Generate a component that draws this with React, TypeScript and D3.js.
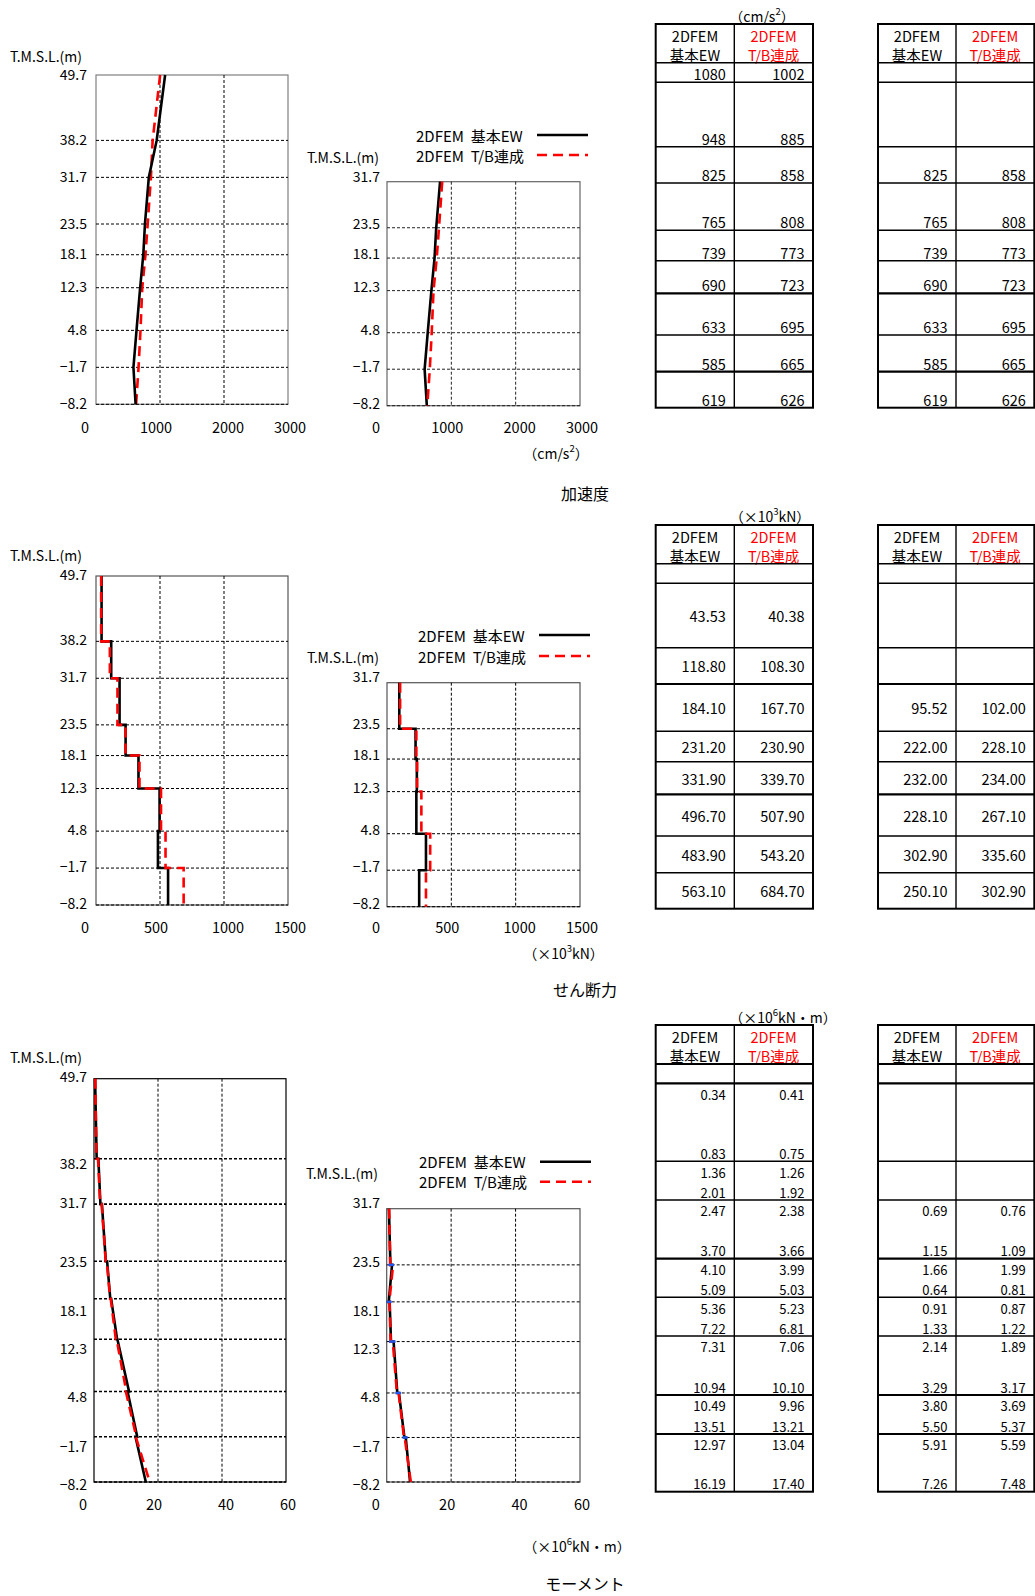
import React from 'react';
import * as d3 from 'd3';

// ---------- data ----------
const levelsFull = [49.7, 38.2, 31.7, 23.5, 18.1, 12.3, 4.8, -1.7, -8.2];
const levelsSub = [31.7, 23.5, 18.1, 12.3, 4.8, -1.7, -8.2];

const accelEW = [1080, 948, 825, 765, 739, 690, 633, 585, 619];
const accelTB = [1002, 885, 858, 808, 773, 723, 695, 665, 626];
const accelSubEW = [825, 765, 739, 690, 633, 585, 619];
const accelSubTB = [858, 808, 773, 723, 695, 665, 626];

const shearEW = [43.53, 118.8, 184.1, 231.2, 331.9, 496.7, 483.9, 563.1];
const shearTB = [40.38, 108.3, 167.7, 230.9, 339.7, 507.9, 543.2, 684.7];
const shearSubEW = [95.52, 222.0, 232.0, 228.1, 302.9, 250.1];
const shearSubTB = [102.0, 228.1, 234.0, 267.1, 335.6, 302.9];

const momentEWTop = [0.34, 1.36, 2.47, 4.10, 5.36, 7.31, 10.49, 12.97];
const momentEWBot = [0.83, 2.01, 3.70, 5.09, 7.22, 10.94, 13.51, 16.19];
const momentTBTop = [0.41, 1.26, 2.38, 3.99, 5.23, 7.06, 9.96, 13.04];
const momentTBBot = [0.75, 1.92, 3.66, 5.03, 6.81, 10.10, 13.21, 17.40];
const momentSubEWTop = [0.69, 1.66, 0.91, 2.14, 3.80, 5.91];
const momentSubEWBot = [1.15, 0.64, 1.33, 3.29, 5.50, 7.26];
const momentSubTBTop = [0.76, 1.99, 0.87, 1.89, 3.69, 5.59];
const momentSubTBBot = [1.09, 0.81, 1.22, 3.17, 5.37, 7.48];

const accelTicks = [0, 1000, 2000, 3000];
const shearTicks = [0, 500, 1000, 1500];
const momentTicks = [0, 20, 40, 60];

const seriesNames = ['2DFEM\u00a0\u00a0基本EW', '2DFEM\u00a0\u00a0T/B連成'];
const headerEW = ['2DFEM', '基本EW'];
const headerTB = ['2DFEM', 'T/B連成'];
const yAxisTitle = 'T.M.S.L.(m)';
const sectionTitles = ['加速度', 'せん断力', 'モーメント'];

// ---------- style ----------
const FONT = "'Noto Sans CJK JP', 'Noto Sans', sans-serif";
const RED = '#FF0000';
const xLabelNudge = [-11, -4, 4, 2];

type Pt = [number, number];
type Series = { points: Pt[]; color: string; width: number; dash?: string };

const ptsOf = (vals: number[], lv: number[]): Pt[] => vals.map((v, i) => [v, lv[i]] as Pt);
const stepPts = (vals: number[], lv: number[]): Pt[] =>
  vals.flatMap((v, i) => [[v, lv[i]] as Pt, [v, lv[i + 1]] as Pt]);
const segPts = (top: number[], bot: number[], lv: number[]): Pt[] =>
  top.flatMap((t, i) => [[t, lv[i]] as Pt, [bot[i], lv[i + 1]] as Pt]);

const ewStyle = { color: '#000', width: 2.6 };
const tbStyle = { color: RED, width: 2.6, dash: '10,6' };

function Chart(props: {
  x0: number; x1: number; y0: number; y1: number; xMax: number;
  levels: number[]; ticks: number[]; labelY: (v: number, i: number) => number;
  labelEndX: number; tickY: number; series: Series[]; gridW: number; gridColor: string;
  border: string; jogs?: { a: number; b: number; lv: number }[];
}) {
  const { x0, x1, y0, y1, xMax, levels, ticks, labelY, labelEndX, tickY, series, gridW, gridColor, border, jogs } = props;
  const xs = d3.scaleLinear().domain([0, xMax]).range([x0, x1]);
  const ys = d3.scaleLinear().domain([levels[levels.length - 1], levels[0]]).range([y1, y0]);
  const line = d3.line<Pt>().x(d => xs(d[0])).y(d => ys(d[1]));
  return (
    <g>
      <rect x={x0} y={y0} width={x1 - x0} height={y1 - y0} fill="#fff" stroke={border} strokeWidth={1.2} />
      {ticks.slice(1, -1).map(t => (
        <line key={'v' + t} x1={xs(t)} x2={xs(t)} y1={y0} y2={y1} stroke={gridColor} strokeWidth={1} strokeDasharray="3,2" />
      ))}
      {levels.slice(1).map(l => (
        <line key={'h' + l} x1={x0} x2={x1} y1={ys(l)} y2={ys(l)} stroke={gridColor} strokeWidth={gridW} strokeDasharray="3,2" />
      ))}
      {levels.map((l, i) => (
        <text key={'yl' + l} x={labelEndX} y={labelY(l, i)} textAnchor="end" dominantBaseline="central" fontSize={14}>
          {l < 0 ? '\u2212' + Math.abs(l).toFixed(1) : l.toFixed(1)}
        </text>
      ))}
      {ticks.map((t, i) => (
        <text key={'xl' + t} x={xs(t) + xLabelNudge[i]} y={tickY} textAnchor="middle" dominantBaseline="central" fontSize={14.5}>
          {t}
        </text>
      ))}
      {series.map((s, i) => (
        <path key={'s' + i} d={line(s.points) || ''} fill="none" stroke={s.color} strokeWidth={s.width}
          strokeDasharray={s.dash} strokeLinejoin="miter" />
      ))}
      {jogs && jogs.map((j, i) => (
        <line key={'j' + i} x1={Math.min(xs(j.a), xs(j.b)) - 2} x2={Math.max(xs(j.a), xs(j.b)) + 2}
          y1={ys(j.lv)} y2={ys(j.lv)} stroke="#2255ee" strokeWidth={2.5} />
      ))}
    </g>
  );
}

function Legend({ x, y1, y2, lx1, lx2 }: { x: number; y1: number; y2: number; lx1: number; lx2: number }) {
  return (
    <g fontSize={15}>
      <text x={x} y={y1} dominantBaseline="central" style={{ whiteSpace: 'pre' }}>{seriesNames[0]}</text>
      <line x1={lx1} x2={lx2} y1={y1} y2={y1} stroke="#000" strokeWidth={2.6} />
      <text x={x} y={y2} dominantBaseline="central" style={{ whiteSpace: 'pre' }}>{seriesNames[1]}</text>
      <line x1={lx1} x2={lx2} y1={y2} y2={y2} stroke={RED} strokeWidth={2.6} strokeDasharray="10,6" />
    </g>
  );
}

type Cell = { row: number; ew: string; tb: string; pos: 'bottom' | 'center' | 'top' };

function DataTable({ cols, rows, thick, cells, cellFont = 14.5, topOff = 12.5, botOff = 8.5 }:
  { cols: number[]; rows: number[]; thick: number[]; cells: Cell[]; cellFont?: number; topOff?: number; botOff?: number }) {
  const [l, m, r] = cols;
  const top = rows[0], bot = rows[rows.length - 1];
  const cy = (c: Cell) => {
    const a = rows[c.row], b = rows[c.row + 1];
    if (c.pos === 'bottom') return b - botOff;
    if (c.pos === 'top') return a + topOff;
    return (a + b) / 2;
  };
  return (
    <g fontSize={14.5}>
      <text x={(l + m) / 2} y={top + 11.5} textAnchor="middle" dominantBaseline="central">{headerEW[0]}</text>
      <text x={(l + m) / 2} y={top + 30.5} textAnchor="middle" dominantBaseline="central">{headerEW[1]}</text>
      <text x={(m + r) / 2} y={top + 11.5} textAnchor="middle" dominantBaseline="central" fill={RED}>{headerTB[0]}</text>
      <text x={(m + r) / 2} y={top + 30.5} textAnchor="middle" dominantBaseline="central" fill={RED}>{headerTB[1]}</text>
      {rows.slice(1, -1).map((y, i) => (
        <line key={'r' + i} x1={l} x2={r} y1={y} y2={y} stroke="#000" strokeWidth={thick.includes(i + 1) ? 2.2 : 1.4} />
      ))}
      <line x1={m} x2={m} y1={top} y2={bot} stroke="#000" strokeWidth={1.4} />
      <rect x={l} y={top} width={r - l} height={bot - top} fill="none" stroke="#000" strokeWidth={2} />
      {cells.map((c, i) => (
        <g key={'c' + i} fontSize={cellFont}>
          <text x={m - 8.5} y={cy(c)} textAnchor="end" dominantBaseline="central">{c.ew}</text>
          <text x={r - 8.5} y={cy(c)} textAnchor="end" dominantBaseline="central">{c.tb}</text>
        </g>
      ))}
    </g>
  );
}

function Unit({ x, y, pre, sup, post }: { x: number; y: number; pre: string; sup: string; post: string }) {
  return (
    <text x={x} y={y} textAnchor="middle" dominantBaseline="central" fontSize={14}>
      {pre}
      <tspan dy={-5} fontSize={9.5}>{sup}</tspan>
      <tspan dy={5}>{post}</tspan>
    </text>
  );
}

const tableColsL = [655.7, 734.3, 813];
const tableColsR = [878, 956, 1034.3];
const accelRows = [24, 62.7, 82.3, 146.7, 183, 230.3, 260.7, 293.3, 335, 371.7, 407.7];
const shearRows = accelRows.map(v => v + 501);
const momentRows = [1025, 1064, 1083.3, 1161.3, 1200, 1258.7, 1297.3, 1336, 1395, 1434, 1491.7];
const momentNudge = [-2.7, 4.3, -1.7, 0, 11.5, 8.8, 5, 9.3, 2];

export default function App() {
  const aLeft = { x0: 96, x1: 288, y0: 75, y1: 404.3 };
  const aLeftY = d3.scaleLinear().domain([-8.2, 49.7]).range([aLeft.y1, aLeft.y0]);
  const aLab = (v: number) => aLeftY(v) - 1.5;
  const sLeft = { x0: 96, x1: 288, y0: 576, y1: 905 };
  const sLeftY = d3.scaleLinear().domain([-8.2, 49.7]).range([sLeft.y1, sLeft.y0]);
  const sLab = (v: number) => sLeftY(v) - 2;
  const mLeft = { x0: 94, x1: 286, y0: 1078.7, y1: 1482 };
  const mLeftY = d3.scaleLinear().domain([-8.2, 49.7]).range([mLeft.y1, mLeft.y0]);
  const mLab = (v: number) => mLeftY(v) + momentNudge[levelsFull.indexOf(v)];

  const fmt0 = (v: number) => String(v);
  const fmt2 = (v: number) => v.toFixed(2);

  const accelCellsL: Cell[] = accelEW.map((v, i) => ({ row: i + 1, ew: fmt0(v), tb: fmt0(accelTB[i]), pos: 'bottom' }));
  const accelCellsR: Cell[] = accelSubEW.map((v, i) => ({ row: i + 3, ew: fmt0(v), tb: fmt0(accelSubTB[i]), pos: 'bottom' }));
  const shearCellsL: Cell[] = shearEW.map((v, i) => ({ row: i + 2, ew: fmt2(v), tb: fmt2(shearTB[i]), pos: 'center' }));
  const shearCellsR: Cell[] = shearSubEW.map((v, i) => ({ row: i + 4, ew: fmt2(v), tb: fmt2(shearSubTB[i]), pos: 'center' }));
  const momentCellsL: Cell[] = momentEWTop.flatMap((v, i) => [
    { row: i + 2, ew: fmt2(v), tb: fmt2(momentTBTop[i]), pos: 'top' as const },
    { row: i + 2, ew: fmt2(momentEWBot[i]), tb: fmt2(momentTBBot[i]), pos: 'bottom' as const },
  ]);
  const momentCellsR: Cell[] = momentSubEWTop.flatMap((v, i) => [
    { row: i + 4, ew: fmt2(v), tb: fmt2(momentSubTBTop[i]), pos: 'top' as const },
    { row: i + 4, ew: fmt2(momentSubEWBot[i]), tb: fmt2(momentSubTBBot[i]), pos: 'bottom' as const },
  ]);

  const jogs = levelsSub.slice(1, -1).map((lv, i) => ({ a: momentSubEWBot[i], b: momentSubEWTop[i + 1], lv }));

  return (
    <svg width={1035} height={1596} style={{ position: 'absolute', left: 0, top: 0, background: '#fff' }}
      fontFamily={FONT} fill="#000">
      {/* ===== acceleration ===== */}
      <text x={10} y={56} dominantBaseline="central" fontSize={14}>{yAxisTitle}</text>
      <Chart {...aLeft} xMax={3000} levels={levelsFull} ticks={accelTicks} labelY={v => aLab(v)} labelEndX={87}
        tickY={426} gridW={1} gridColor="#000" border="#808080"
        series={[{ points: ptsOf(accelTB, levelsFull), ...tbStyle }, { points: ptsOf(accelEW, levelsFull), ...ewStyle }]} />
      <Legend x={416} y1={135} y2={155} lx1={537} lx2={588} />
      <text x={379} y={156.7} textAnchor="end" dominantBaseline="central" fontSize={14}>{yAxisTitle}</text>
      <Chart x0={387} x1={580} y0={181.7} y1={405.7} xMax={3000} levels={levelsSub} ticks={accelTicks}
        labelY={v => aLab(v)} labelEndX={380} tickY={426} gridW={1} gridColor="#222" border="#666"
        series={[{ points: ptsOf(accelSubEW, levelsSub), ...ewStyle }, { points: ptsOf(accelSubTB, levelsSub), ...tbStyle }]} />
      <Unit x={556} y={453} pre="（cm/s" sup="2" post="）" />
      <text x={585} y={493} textAnchor="middle" dominantBaseline="central" fontSize={16}>{sectionTitles[0]}</text>
      <Unit x={762} y={16} pre="（cm/s" sup="2" post="）" />
      <DataTable cols={tableColsL} rows={accelRows} thick={[7, 9]} cells={accelCellsL} />
      <DataTable cols={tableColsR} rows={accelRows} thick={[7, 9]} cells={accelCellsR} />

      {/* ===== shear ===== */}
      <text x={10} y={555} dominantBaseline="central" fontSize={14}>{yAxisTitle}</text>
      <Chart {...sLeft} xMax={1500} levels={levelsFull} ticks={shearTicks} labelY={v => sLab(v)} labelEndX={87}
        tickY={926} gridW={1} gridColor="#000" border="#555"
        series={[{ points: stepPts(shearEW, levelsFull), ...ewStyle }, { points: stepPts(shearTB, levelsFull), ...tbStyle }]} />
      <Legend x={418} y1={635} y2={656} lx1={539} lx2={590} />
      <text x={379} y={656.7} textAnchor="end" dominantBaseline="central" fontSize={14}>{yAxisTitle}</text>
      <Chart x0={387} x1={580} y0={682.7} y1={906.7} xMax={1500} levels={levelsSub} ticks={shearTicks}
        labelY={v => sLab(v)} labelEndX={380} tickY={926} gridW={1} gridColor="#000" border="#555"
        series={[{ points: stepPts(shearSubEW, levelsSub), ...ewStyle }, { points: stepPts(shearSubTB, levelsSub), ...tbStyle }]} />
      <Unit x={563.5} y={952.7} pre="（×10" sup="3" post="kN）" />
      <text x={585} y={989} textAnchor="middle" dominantBaseline="central" fontSize={16}>{sectionTitles[1]}</text>
      <Unit x={770} y={516} pre="（×10" sup="3" post="kN）" />
      <DataTable cols={tableColsL} rows={shearRows} thick={[4, 7]} cells={shearCellsL} />
      <DataTable cols={tableColsR} rows={shearRows} thick={[4, 7]} cells={shearCellsR} />

      {/* ===== moment ===== */}
      <text x={10} y={1056.7} dominantBaseline="central" fontSize={14}>{yAxisTitle}</text>
      <Chart {...mLeft} xMax={60} levels={levelsFull} ticks={momentTicks} labelY={v => mLab(v)} labelEndX={87}
        tickY={1503} gridW={1.6} gridColor="#000" border="#000"
        series={[{ points: segPts(momentEWTop, momentEWBot, levelsFull), ...ewStyle }, { points: segPts(momentTBTop, momentTBBot, levelsFull), ...tbStyle }]} />
      <Legend x={419} y1={1161.7} y2={1181.7} lx1={540} lx2={591} />
      <text x={378} y={1173.3} textAnchor="end" dominantBaseline="central" fontSize={14}>{yAxisTitle}</text>
      <Chart x0={386.7} x1={580} y0={1208.7} y1={1482} xMax={60} levels={levelsSub} ticks={momentTicks}
        labelY={v => mLab(v)} labelEndX={380} tickY={1503} gridW={1} gridColor="#000" border="#555"
        jogs={jogs}
        series={[{ points: segPts(momentSubEWTop, momentSubEWBot, levelsSub), ...ewStyle }, { points: segPts(momentSubTBTop, momentSubTBBot, levelsSub), ...tbStyle }]} />
      <Unit x={577} y={1546} pre="（×10" sup="6" post="kN・m）" />
      <text x={585} y={1583} textAnchor="middle" dominantBaseline="central" fontSize={16}>{sectionTitles[2]}</text>
      <Unit x={783} y={1017} pre="（×10" sup="6" post="kN・m）" />
      <DataTable cols={tableColsL} rows={momentRows} thick={[1, 2, 5, 8, 9]} cells={momentCellsL}
        cellFont={13} topOff={10.8} botOff={8} />
      <DataTable cols={tableColsR} rows={momentRows} thick={[1, 2, 5, 8, 9]} cells={momentCellsR}
        cellFont={13} topOff={10.8} botOff={8} />
    </svg>
  );
}
